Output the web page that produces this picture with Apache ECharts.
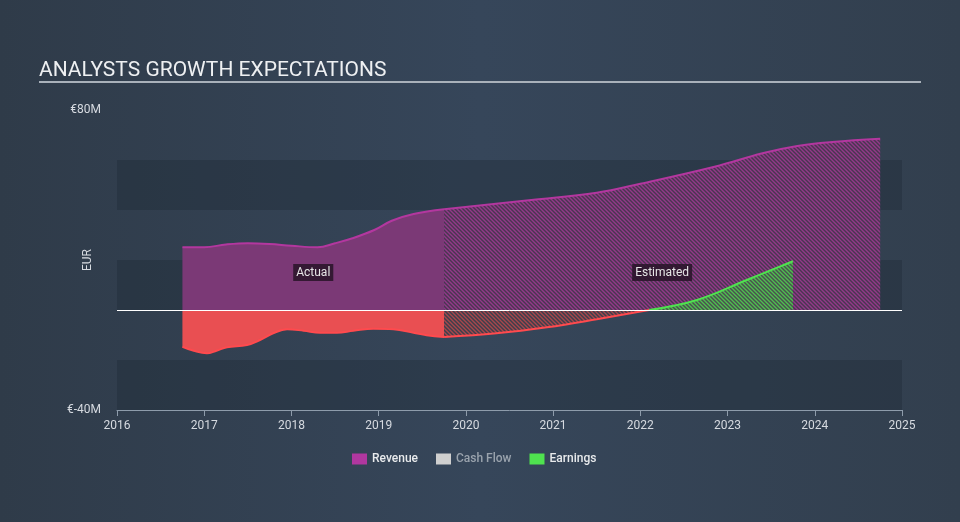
<!DOCTYPE html>
<html>
<head>
<meta charset="utf-8">
<script src="https://cdn.jsdelivr.net/npm/echarts@6/dist/echarts.min.js"></script>
<style>
html,body{margin:0;padding:0;background:#334150;}
#chart{width:960px;height:522px;}
</style>
</head>
<body>
<div id="chart"></div>
<script>
// ---- data (EUR millions) ----
const titleText = 'ANALYSTS GROWTH EXPECTATIONS';
const yTickLabels = [-40, 80];
const revenueActualX = [2016.75, 2017.0, 2017.25, 2017.5, 2017.75, 2018.0, 2018.3, 2018.5, 2018.7, 2018.95, 2019.15, 2019.4, 2019.75];
const revenueActualY = [25.1, 25.1, 26.2, 26.7, 26.4, 25.7, 25.1, 26.7, 28.7, 32.0, 35.7, 38.4, 40.3];
const revenueEstX = [2019.75, 2020.75, 2021.5, 2022.0, 2022.85, 2023.4, 2023.8, 2024.2, 2024.75];
const revenueEstY = [40.3, 44.0, 46.9, 50.5, 57.3, 62.7, 65.6, 67.2, 68.5];
const earningsActualX = [2016.75, 2016.88, 2017.03, 2017.14, 2017.26, 2017.49, 2017.64, 2017.79, 2017.95, 2018.14, 2018.33, 2018.52, 2018.71, 2018.94, 2019.17, 2019.4, 2019.55, 2019.75];
const earningsActualY = [-14.7, -16.3, -17.3, -16.3, -14.9, -14.0, -12.0, -9.3, -7.7, -8.3, -9.1, -9.1, -8.3, -7.5, -7.7, -9.1, -10.1, -10.8];
const earningsEstNegX = [2019.75, 2020.35, 2020.93, 2021.5, 2022.1];
const earningsEstNegY = [-10.8, -9.3, -6.9, -3.7, 0];
const earningsEstPosX = [2022.1, 2022.65, 2023.22, 2023.75];
const earningsEstPosY = [0, 4, 12, 19.5];
const bandRanges = [[40, 60], [0, 20], [-40, -20]];
const legendNames = ['Revenue', 'Cash Flow', 'Earnings'];
const axisName = 'EUR';

function zip(xs, ys) { return xs.map((x, i) => [x, ys[i]]); }

function hatch(bg, fg) {
  const s = 4;
  const c = document.createElement('canvas');
  c.width = s; c.height = s;
  const g = c.getContext('2d');
  g.fillStyle = bg; g.fillRect(0, 0, s, s);
  g.strokeStyle = fg; g.lineWidth = 1.4;
  g.beginPath();
  g.moveTo(-1, -1); g.lineTo(s + 1, s + 1);
  g.moveTo(-1, s - 1); g.lineTo(1, s + 1);
  g.moveTo(s - 1, -1); g.lineTo(s + 1, 1);
  g.stroke();
  return { image: c, repeat: 'repeat' };
}

const chart = echarts.init(document.getElementById('chart'));
const font = 'Roboto, "Open Sans", sans-serif';

const option = {
  backgroundColor: {
    type: 'linear', x: 0, y: 0, x2: 1, y2: 0,
    colorStops: [{ offset: 0, color: '#2f3b49' }, { offset: 0.5, color: '#36465a' }, { offset: 1, color: '#323f4e' }]
  },
  animation: false,
  title: {
    text: titleText, left: 34, top: 55,
    textStyle: { color: '#eef0f2', fontSize: 21, fontWeight: 'normal', fontFamily: font }
  },
  graphic: [
    {
      type: 'line', shape: { x1: 39, y1: 82, x2: 921, y2: 82 },
      style: { stroke: '#a9b1ba', lineWidth: 2 }
    },
    {
      type: 'text', x: 88, y: 260, rotation: Math.PI / 2,
      style: { text: axisName, fill: '#d6dae0', font: '12px ' + font, align: 'center', verticalAlign: 'middle' }
    }
  ],
  grid: { left: 117, right: 58, top: 110, bottom: 112 },
  legend: {
    bottom: 52, left: 347, itemWidth: 15, itemHeight: 11, itemGap: 18,
    selectedMode: false, icon: 'rect',
    textStyle: { fontFamily: font, fontSize: 12, fontWeight: 500 },
    data: [
      { name: legendNames[0], itemStyle: { color: '#b0379f' }, textStyle: { color: '#e8eaec' } },
      { name: legendNames[1], itemStyle: { color: '#cfcfcf' }, textStyle: { color: '#9aa3ad' } },
      { name: legendNames[2], itemStyle: { color: '#4fe24f' }, textStyle: { color: '#e8eaec' } }
    ]
  },
  xAxis: {
    type: 'value', min: 2016, max: 2025, interval: 1,
    axisLine: { show: true, onZero: false, lineStyle: { color: '#8e9cab', width: 1 } },
    axisTick: { show: true, length: 6, lineStyle: { color: '#8e9cab' } },
    axisLabel: { color: '#d6dae0', fontSize: 12, fontFamily: font, margin: 10, formatter: v => String(Math.round(v)) },
    splitLine: { show: false }
  },
  yAxis: {
    type: 'value', min: yTickLabels[0], max: yTickLabels[1], interval: yTickLabels[1] - yTickLabels[0],
    axisLine: { show: false }, axisTick: { show: false },
    axisLabel: { color: '#d6dae0', fontSize: 12, fontFamily: font, margin: 16, formatter: v => '€' + v + 'M' },
    splitLine: { show: false }
  },
  series: [
    {
      type: 'line', name: 'bands', data: [], silent: true, z: 0,
      markArea: {
        silent: true,
        itemStyle: { color: 'rgba(30,40,52,0.35)' },
        data: bandRanges.map(r => [{ xAxis: 2016, yAxis: r[0] }, { xAxis: 2025, yAxis: r[1] }])
      }
    },
    {
      type: 'line', name: 'Revenue', data: zip(revenueActualX, revenueActualY), smooth: 0.4,
      symbol: 'none', lineStyle: { color: '#b3379f', width: 2 },
      itemStyle: { color: '#b0379f' },
      areaStyle: { color: '#7b3976', opacity: 1 }, z: 2,
      markPoint: {
        symbol: 'rect', symbolSize: 0,
        label: {
          show: true, formatter: 'Actual', color: '#e6e6e6', fontSize: 12, fontFamily: font,
          backgroundColor: 'rgba(40,20,40,0.85)', padding: [3, 3, 2, 3], position: 'inside'
        },
        data: [{ coord: [2018.25, 15] }]
      }
    },
    {
      type: 'line', name: 'Revenue', data: zip(revenueEstX, revenueEstY), smooth: 0.4,
      symbol: 'none', lineStyle: { color: '#b3379f', width: 2 },
      itemStyle: { color: '#b0379f' },
      areaStyle: { color: hatch('#493650', '#93398a'), opacity: 1 }, z: 2,
      markPoint: {
        symbol: 'rect', symbolSize: 0,
        label: {
          show: true, formatter: 'Estimated', color: '#e6e6e6', fontSize: 12, fontFamily: font,
          backgroundColor: 'rgba(40,20,40,0.85)', padding: [3, 3, 2, 3], position: 'inside'
        },
        data: [{ coord: [2022.25, 15] }]
      }
    },
    {
      type: 'line', name: 'Cash Flow', data: [], itemStyle: { color: '#cfcfcf' }
    },
    {
      type: 'line', name: 'Earnings', data: zip(earningsActualX, earningsActualY), smooth: 0.4,
      symbol: 'none', lineStyle: { color: '#ff4a4e', width: 2 },
      itemStyle: { color: '#4fe24f' },
      areaStyle: { color: '#e94f52', opacity: 1 }, z: 3
    },
    {
      type: 'line', name: 'Earnings', data: zip(earningsEstNegX, earningsEstNegY), smooth: 0.4,
      symbol: 'none', lineStyle: { color: '#ff4a4e', width: 2 },
      itemStyle: { color: '#4fe24f' },
      areaStyle: { color: hatch('#3c3f4c', '#a8474c'), opacity: 1 }, z: 3
    },
    {
      type: 'line', name: 'Earnings', data: zip(earningsEstPosX, earningsEstPosY), smooth: 0.4,
      symbol: 'none', lineStyle: { color: '#4fe24f', width: 2 },
      itemStyle: { color: '#4fe24f' },
      areaStyle: { color: hatch('#4a4f50', '#4fbf4f'), opacity: 1 }, z: 3
    },
    {
      type: 'line', name: 'zero', data: [], z: 4, silent: true,
      markLine: {
        silent: true, symbol: 'none', label: { show: false },
        lineStyle: { color: '#ffffff', width: 1, type: 'solid' },
        data: [{ yAxis: 0 }]
      }
    }
  ]
};
chart.setOption(option);
</script>
</body>
</html>
